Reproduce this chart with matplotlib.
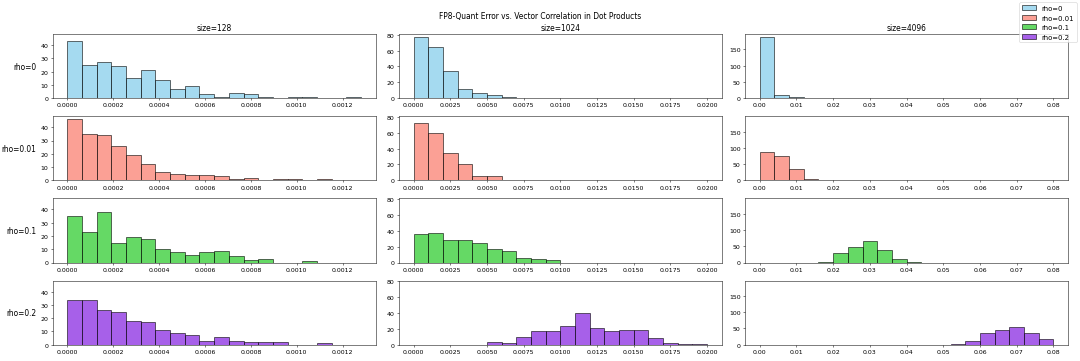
import matplotlib
matplotlib.use("Agg")
import matplotlib.pyplot as plt
import numpy as np

# histogram counts, 20 bins per panel
sizes = [128, 1024, 4096]
rhos = ["rho=0", "rho=0.01", "rho=0.1", "rho=0.2"]
colors = ["skyblue", "salmon", "limegreen", "blueviolet"]
bin_max = [0.00128, 0.02, 0.08]  # upper edge of the 20 bins, per size

counts_128 = [
    [43, 25, 27, 24, 15, 21, 14, 7, 9, 3, 1, 4, 3, 1, 0, 1, 1, 0, 0, 1],
    [46, 35, 34, 26, 19, 12, 6, 5, 4, 4, 3, 1, 2, 0, 1, 1, 0, 1, 0, 0],
    [35, 23, 38, 15, 19, 18, 10, 8, 6, 8, 9, 5, 2, 3, 0, 0, 1, 0, 0, 0],
    [34, 34, 26, 25, 18, 17, 11, 9, 7, 3, 6, 3, 2, 2, 2, 0, 0, 1, 0, 0],
]
counts_1024 = [
    [77, 64, 34, 12, 7, 4, 2, 0, 0, 0, 0, 0, 0, 0, 0, 0, 0, 0, 0, 0],
    [72, 60, 35, 20, 6, 6, 1, 0, 0, 0, 0, 0, 0, 0, 0, 0, 0, 0, 0, 0],
    [36, 37, 28, 29, 25, 17, 15, 6, 4, 3, 0, 0, 0, 0, 0, 0, 0, 0, 0, 0],
    [0, 0, 0, 0, 0, 3, 2, 10, 17, 17, 24, 40, 21, 17, 19, 18, 8, 2, 1, 1],
]
counts_4096 = [
    [188, 10, 2, 0, 0, 0, 0, 0, 0, 0, 0, 0, 0, 0, 0, 0, 0, 0, 0, 0],
    [87, 74, 35, 4, 0, 0, 0, 0, 0, 0, 0, 0, 0, 0, 0, 0, 0, 0, 0, 0],
    [0, 0, 0, 0, 3, 30, 48, 67, 38, 12, 2, 0, 0, 0, 0, 0, 0, 0, 0, 0],
    [0, 0, 0, 0, 0, 0, 0, 0, 0, 0, 0, 0, 0, 1, 10, 36, 44, 56, 36, 17],
]
all_counts = [counts_128, counts_1024, counts_4096]

fig, axes = plt.subplots(4, 3, figsize=(24, 8.044), dpi=45,
                         sharex="col", sharey="col")
fig.subplots_adjust(left=0.0488, right=0.9889, top=0.9033, bottom=0.045,
                    wspace=0.072, hspace=0.283)

handles = []
for j, size in enumerate(sizes):
    edges = np.linspace(0, bin_max[j], 21)
    for i, rho in enumerate(rhos):
        ax = axes[i, j]
        _, _, patches = ax.hist(edges[:-1], bins=edges, weights=all_counts[j][i],
                                color=colors[i], alpha=0.75, edgecolor="black",
                                linewidth=1.2, label=rho)
        ax.tick_params(labelbottom=True)
        if j == 0:
            handles.append(patches[0])
            ax.set_ylabel(rho, rotation=0, ha="right", va="center",
                          fontsize=12, labelpad=6)
        if i == 0:
            ax.set_title(f"size={size}", fontsize=12)

fig.suptitle("FP8-Quant Error vs. Vector Correlation in Dot Products",
             fontsize=12, y=0.968)
fig.legend(handles, rhos, loc="upper right", fontsize=11)

fig.savefig("out.png")
